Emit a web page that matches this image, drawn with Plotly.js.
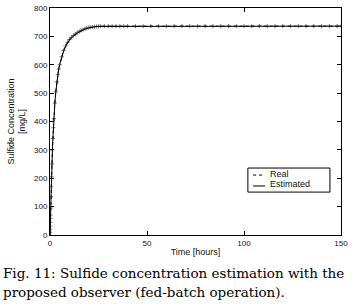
<!DOCTYPE html>
<html>
<head>
<meta charset="utf-8">
<script src="https://cdn.plot.ly/plotly-3.0.1.min.js"></script>
<style>html,body{margin:0;padding:0;background:#fff;}#chart{width:352px;height:304px;}</style>
</head>
<body>
<div id="chart"></div>
<script>
const timeHours = [0,0.03,0.06,0.1,0.15,0.2,0.25,0.35,0.5,0.65,0.8,1,1.25,1.5,1.75,2,2.5,3,3.5,4,4.5,5,6,7,8,9,10,11,12,13,14,15,16,17,18,19,20,21,22,23,24,25,26,28,30,32,34,36,38,40,44,48,52,56,60,64,68,72,76,80,84,88,92,96,100,104,108,112,116,120,124,128,132,136,140,144,148,150];
const realSulfide = [0,10,20,32,45,58,70,95,135,170,205,250,300,340,378,410,465,505,540,565,585,600,628,650,666,679,689,697,703,708,713,717,721,724,727,729,731,732,733,734,735,735,736,736,736,736,736,736,736,736,736,736,736,736,736,736,736,736,736,736,736,736,736,736,736,736,736,736,736,736,736,736,736,736,736,736,736,736];
const estimatedSulfide = [0,10,20,32,45,58,70,95,135,170,205,250,300,340,378,410,465,505,540,565,585,600,627,648,664,677,687,695,701,706,711,715,719,722,725,728,730,732,733,734,735,735,736,736,736,736,736,736,736,736,736,736,736,736,736,736,736,736,736,736,736,736,736,736,736,736,736,736,736,736,736,736,736,736,736,736,736,736];
const legendNames = ["Real","Estimated"];
const captionLines = ["Fig. 11: Sulfide concentration estimation with the","proposed observer (fed-batch operation)."];
const xTicks = [0,50,100,150];
const yTicks = [0,100,200,300,400,500,600,700,800];

const traces = [
  {x: timeHours, y: realSulfide, mode: 'lines+markers', showlegend: false,
   line: {color: '#000', width: 1, dash: 'dot'},
   marker: {symbol: 'cross-thin', size: 3, color: '#555', line: {color: '#555', width: 0.8}}},
  {x: timeHours, y: estimatedSulfide, mode: 'lines', showlegend: false,
   line: {color: '#000', width: 1}}
];

const axisFont = {family: 'Liberation Sans, Arial, sans-serif', size: 8, color: '#111'};
const titleFont = {family: 'Liberation Sans, Arial, sans-serif', size: 9, color: '#111'};
const capFont = {family: 'DejaVu Serif, serif', size: 13.5, color: '#000'};
const layout = {
  width: 352, height: 304,
  margin: {l: 50, r: 11, t: 8, b: 69},
  paper_bgcolor: '#fff', plot_bgcolor: '#fff',
  font: axisFont,
  showlegend: false,
  xaxis: {range: [0, 150], tickvals: xTicks, ticks: 'inside', ticklen: 4, tickcolor: '#000',
          showline: true, linecolor: '#000', linewidth: 1, mirror: 'ticks', showgrid: false, zeroline: false,
          tickfont: axisFont, title: {text: 'Time [hours]', font: titleFont, standoff: 2}},
  yaxis: {range: [0, 800], tickvals: yTicks, ticks: 'inside', ticklen: 4, tickcolor: '#000',
          showline: true, linecolor: '#000', linewidth: 1, mirror: 'ticks', showgrid: false, zeroline: false,
          tickfont: axisFont, title: {text: 'Sulfide Concentration<br>[mg/L]', font: titleFont, standoff: 6}},
  shapes: [
    {type: 'rect', xref: 'paper', yref: 'paper', x0: 0.680, x1: 0.962, y0: 0.189, y1: 0.295,
     line: {color: '#000', width: 1}, fillcolor: '#fff'},
    {type: 'line', xref: 'paper', yref: 'paper', x0: 0.698, x1: 0.739, y0: 0.264, y1: 0.264,
     line: {color: '#000', width: 1, dash: 'dot'}},
    {type: 'line', xref: 'paper', yref: 'paper', x0: 0.698, x1: 0.739, y0: 0.216, y1: 0.216,
     line: {color: '#000', width: 1}}
  ],
  annotations: [
    {xref: 'paper', yref: 'paper', x: 0.749, y: 0.268, xanchor: 'left', yanchor: 'middle', showarrow: false,
     text: legendNames[0], font: titleFont},
    {xref: 'paper', yref: 'paper', x: 0.749, y: 0.224, xanchor: 'left', yanchor: 'middle', showarrow: false,
     text: legendNames[1], font: titleFont},
    {xref: 'paper', yref: 'paper', x: -0.168, y: -0.167, xanchor: 'left', yanchor: 'middle', showarrow: false,
     align: 'left', text: captionLines[0], font: capFont},
    {xref: 'paper', yref: 'paper', x: -0.168, y: -0.251, xanchor: 'left', yanchor: 'middle', showarrow: false,
     align: 'left', text: captionLines[1], font: capFont}
  ]
};
Plotly.newPlot('chart', traces, layout, {staticPlot: true, displayModeBar: false});
</script>
</body>
</html>
